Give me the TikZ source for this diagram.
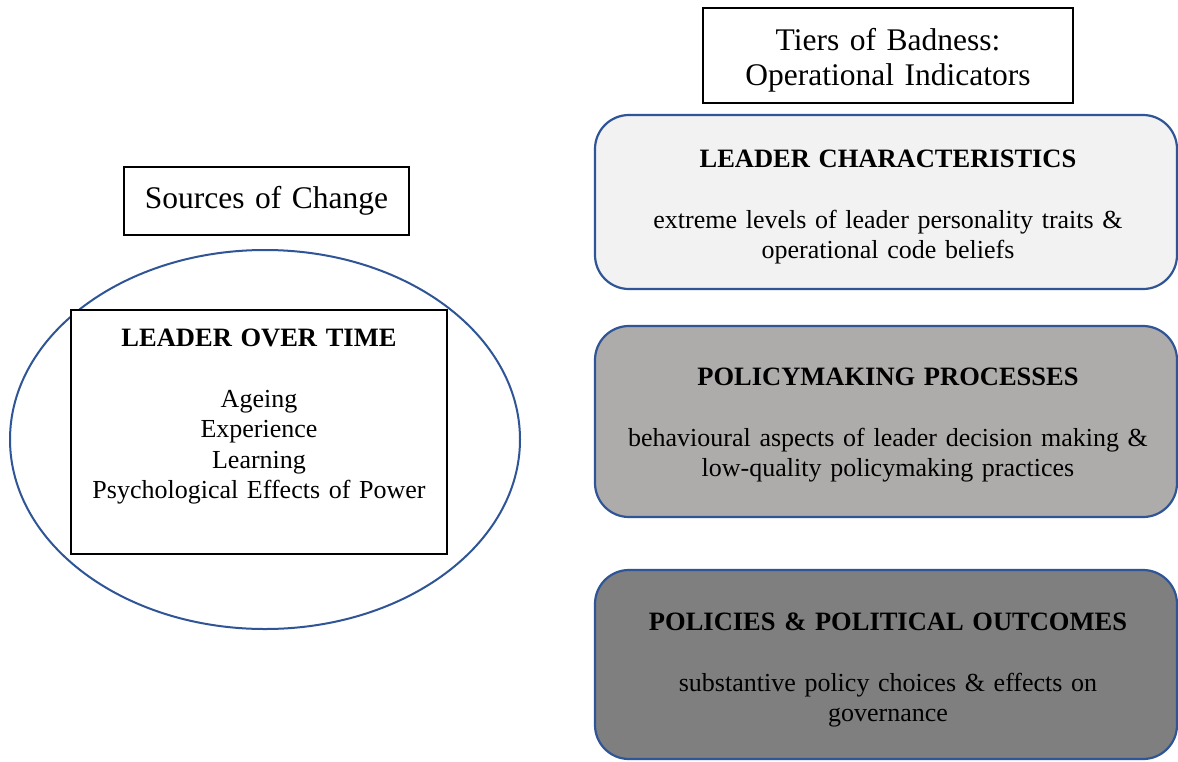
\documentclass[tikz,border=0pt]{standalone}
\usepackage{fontspec}
\setmainfont{Liberation Serif}
\usetikzlibrary{shapes.geometric}
\definecolor{bblue}{HTML}{2F5597}
\definecolor{fillA}{HTML}{F2F2F2}
\definecolor{fillB}{HTML}{AEABAB}
\definecolor{fillC}{HTML}{7F7F7F}
\newcommand{\ttl}[1]{{\fontsize{26.5}{30.5}\selectfont\textbf{#1}}}
\begin{document}
\begin{tikzpicture}[x=1pt,y=-1pt,
  hdr/.style={draw=black,line width=1.1pt,fill=white,inner sep=0pt},
  tier/.style={draw=bblue,line width=2.2pt,rounded corners=34pt,inner sep=0pt,minimum width=582pt},
  bigtxt/.style={font=\fontsize{31.5}{35}\selectfont,align=center,inner sep=0pt,anchor=base,text width=400pt},
  bodytxt/.style={font=\fontsize{26}{30.5}\selectfont,align=center,inner sep=0pt,anchor=base,text width=570pt}]
\useasboundingbox (0,0) rectangle (1178,761);
\fill[white] (0,0) rectangle (1178,761);
% headers
\node[hdr,minimum width=370pt,minimum height=95pt] (tiersbox) at (888,55.5) {};
\node[bigtxt] (tierstxt) at (888,50) {Tiers of Badness:\\Operational Indicators};
\node[hdr,minimum width=285pt,minimum height=68pt] (srcbox) at (266.5,201) {};
\node[bigtxt] (srctxt) at (266.5,208) {Sources of Change};
% ellipse and leader box
\node[ellipse,draw=bblue,line width=2pt,minimum width=510pt,minimum height=379pt,inner sep=0pt] (ell) at (265,439.5) {};
\node[hdr,minimum width=376pt,minimum height=244pt] (leader) at (259,432) {};
\node[bodytxt,text width=370pt] (leadertxt) at (259,346) {\ttl{LEADER OVER TIME}\\[30.5pt]Ageing\\Experience\\Learning\\Psychological Effects of Power};
% tiers
\node[tier,fill=fillA,minimum height=174pt] (t1) at (886,202) {};
\node[bodytxt] (t1txt) at (888,167) {\ttl{LEADER CHARACTERISTICS}\\[30.5pt]extreme levels of leader personality traits \&\\operational code beliefs};
\node[tier,fill=fillB,minimum height=191pt] (t2) at (886,421.5) {};
\node[bodytxt] (t2txt) at (888,385) {\ttl{POLICYMAKING PROCESSES}\\[30.5pt]behavioural aspects of leader decision making \&\\low-quality policymaking practices};
\node[tier,fill=fillC,minimum height=189pt] (t3) at (886,664.5) {};
\node[bodytxt] (t3txt) at (888,630) {\ttl{POLICIES \& POLITICAL OUTCOMES}\\[30.5pt]substantive policy choices \& effects on\\governance};
\end{tikzpicture}
\end{document}
